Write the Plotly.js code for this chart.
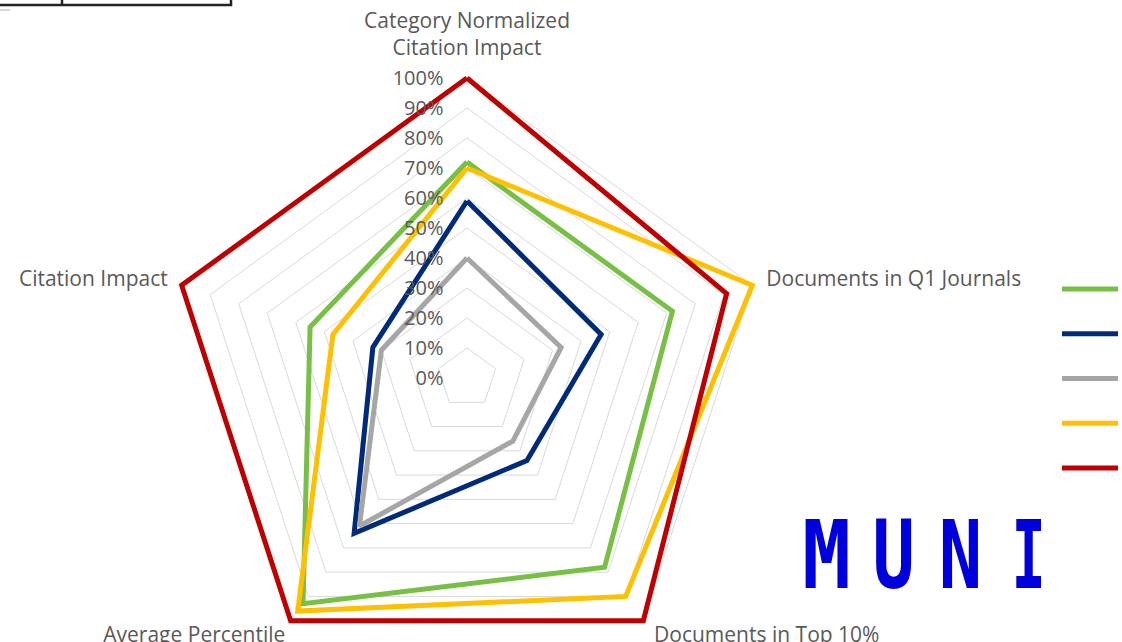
<!DOCTYPE html>
<html>
<head>
<meta charset="utf-8">
<script src="https://cdn.plot.ly/plotly-3.0.1.min.js"></script>
<style>
html,body{margin:0;padding:0;overflow:hidden;background:#fff;}
#chart{width:1122px;height:684px;}
</style>
</head>
<body>
<div id="chart"></div>
<script>
// ---- data ----
const categories = [
  "Category Normalized<br>Citation Impact",
  "Documents in Q1 Journals",
  "Documents in Top 10%",
  "Average Percentile",
  "Citation Impact"
];
const seriesNames = ["Series 1", "Series 2", "Series 3", "Series 4", "Series 5"];
const seriesColors = ["#77c043", "#002a7a", "#a6a6a6", "#ffc000", "#c00000"];
const green  = [0.72, 0.72, 0.78, 0.93, 0.55];
const navy   = [0.59, 0.47, 0.34, 0.64, 0.33];
const gray   = [0.40, 0.33, 0.26, 0.61, 0.30];
const yellow = [0.70, 1.00, 0.90, 0.96, 0.47];
const red    = [1.00, 0.91, 1.00, 1.00, 1.00];
const seriesValues = [green, navy, gray, yellow, red];
const radialTicks = [0,0.1,0.2,0.3,0.4,0.5,0.6,0.7,0.8,0.9,1.0];

const W = 1122, H = 684;
const px = x => x / W;
const py = y => 1 - y / H;
const RMAX = 1.02;           // small headroom so the 100% lines are not clipped
const CX = 467, CY = 378, R100 = 300;
const ROUT = R100 * RMAX;

const traces = seriesValues.map((vals, i) => ({
  type: "scatterpolar",
  mode: "lines",
  r: vals.concat([vals[0]]),
  theta: categories.concat([categories[0]]),
  name: seriesNames[i],
  legendgroup: "g" + i,
  cliponaxis: false,
  line: {color: seriesColors[i], width: 5, shape: "linear"},
  hoverinfo: "skip"
}));

// label overlays: which category labels each angular axis shows, and its outer radius
const NB = "\u00a0";
const labelSets = [
  {subplot: "polar",  show: [1, 4], radius: ROUT,      ticklen: 4},
  {subplot: "polar2", show: [0],    radius: ROUT,      ticklen: 8},
  {subplot: "polar3", show: [2, 3], radius: ROUT - 15, ticklen: 4,
   pad: {2: [NB + NB, ""], 3: ["", NB]}}
];

labelSets.slice(1).forEach(s => {
  traces.push({
    type: "scatterpolar", subplot: s.subplot, mode: "lines",
    r: red, theta: categories, showlegend: false, hoverinfo: "skip",
    line: {color: "rgba(0,0,0,0)", width: 0}
  });
});

function angular(s) {
  return {
    direction: "clockwise",
    rotation: 90,
    showgrid: false,
    showline: false,
    ticks: "outside",
    ticklen: s.ticklen,
    tickcolor: "rgba(0,0,0,0)",
    tickmode: "array",
    tickvals: categories,
    ticktext: categories.map((c, i) => {
      if (!s.show.includes(i)) return "";
      const p = (s.pad && s.pad[i]) || ["", ""];
      return p[0] + c + p[1];
    }),
    categoryorder: "array",
    categoryarray: categories,
    tickfont: {size: 21, color: "#595959"}
  };
}
function domainFor(r) {
  return {x: [px(CX - r), px(CX + r)], y: [py(CY + r), py(CY - r)]};
}

const logoLetters = ["M", "U", "N", "I"];
const logoX = [826, 893, 960, 1028];
const logoScale = [0.85, 0.74, 0.76, 0.6];

const layout = {
  width: W, height: H,
  margin: {l: 0, r: 0, t: 0, b: 0, autoexpand: false},
  paper_bgcolor: "#fff",
  font: {family: "Open Sans, sans-serif", color: "#595959", size: 18},
  showlegend: true,
  legend: {
    x: px(1057), xanchor: "left",
    y: py(272), yanchor: "top",
    font: {size: 16, color: "#595959"},
    tracegroupgap: 21,
    bgcolor: "rgba(0,0,0,0)",
    itemwidth: 56
  },
  polar: {
    domain: domainFor(labelSets[0].radius),
    bgcolor: "#fff",
    gridshape: "linear",
    radialaxis: {
      range: [0, RMAX],
      tickvals: radialTicks,
      tickformat: ".0%",
      angle: 90,
      tickangle: 90,
      side: "counterclockwise",
      showline: false,
      ticks: "outside",
      ticklen: 16,
      tickcolor: "rgba(0,0,0,0)",
      gridcolor: "#d9d9d9",
      gridwidth: 1,
      tickfont: {size: 20, color: "#595959"}
    },
    angularaxis: angular(labelSets[0])
  },
  shapes: [
    {type: "rect", xref: "paper", yref: "paper", x0: px(-2), x1: px(231), y0: py(5), y1: py(-5),
     line: {color: "#222", width: 2.5}},
    {type: "line", xref: "paper", yref: "paper", x0: px(62), x1: px(62), y0: py(5), y1: py(-5),
     line: {color: "#222", width: 2.5}},
    {type: "line", xref: "paper", yref: "paper", x0: px(0), x1: px(10), y0: py(10), y1: py(10),
     line: {color: "#d9d9d9", width: 2}}
  ],
  annotations: logoLetters.map((t, i) => ({
    text: t, xref: "paper", yref: "paper",
    x: px(logoX[i]), y: py(555), xanchor: "center", yanchor: "middle",
    showarrow: false,
    font: {family: "DejaVu Sans Mono", size: 95, color: "#0000dc", weight: 700}
  }))
};

labelSets.slice(1).forEach(s => {
  layout[s.subplot] = {
    domain: domainFor(s.radius),
    bgcolor: "rgba(0,0,0,0)",
    gridshape: "linear",
    radialaxis: {visible: false, range: [0, RMAX]},
    angularaxis: angular(s)
  };
});

Plotly.newPlot("chart", traces, layout, {displayModeBar: false, staticPlot: true}).then(() => {
  document.querySelectorAll(".annotation-text").forEach((el, i) => {
    el.style.transformBox = "fill-box";
    el.style.transformOrigin = "center";
    el.style.transform = "scaleX(" + (logoScale[i] || 0.8) + ")";
  });
});
</script>
</body>
</html>
